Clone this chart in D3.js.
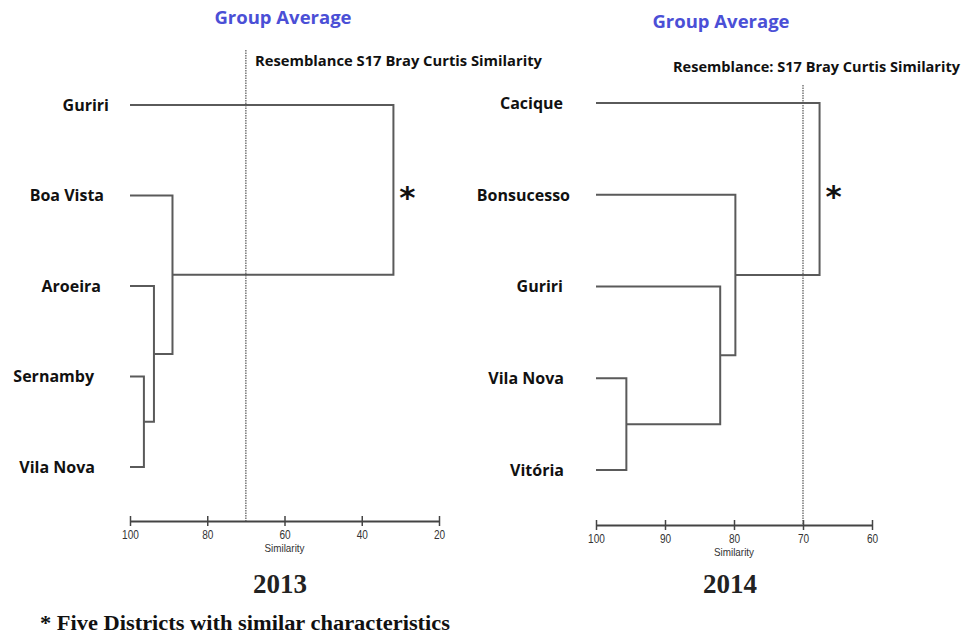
<!DOCTYPE html>
<html>
<head>
<meta charset="utf-8">
<script src="https://cdn.jsdelivr.net/npm/d3@7/dist/d3.min.js"></script>
<style>
  html, body { margin: 0; padding: 0; background: #fff; }
  svg { display: block; }
</style>
</head>
<body>
<svg id="chart" width="965" height="641"></svg>
<script>
// ---- 2013 dendrogram (group-average clustering, Bray-Curtis similarity) ----
const leaves2013 = ["Guriri", "Boa Vista", "Aroeira", "Sernamby", "Vila Nova"];
// merge i joins two nodes; leaves are ids 0..n-1, merge i gets id n+i
const mergePairs2013 = [[3, 4], [2, 5], [1, 6], [0, 7]];
const mergeSim2013 = [96.4, 93.8, 89.0, 31.8];
const ticks2013 = [100, 80, 60, 40, 20];
const cutoff2013 = 70;

// ---- 2014 dendrogram ----
const leaves2014 = ["Cacique", "Bonsucesso", "Guriri", "Vila Nova", "Vitória"];
const mergePairs2014 = [[3, 4], [2, 5], [1, 6], [0, 7]];
const mergeSim2014 = [95.6, 82.0, 79.8, 67.6];
const ticks2014 = [100, 90, 80, 70, 60];
const cutoff2014 = 70;

const svg = d3.select("#chart");
const lineColor = "#5a5a5a";
const titleColor = "#4b4fd6";
const sansBold = "'Open Sans', Lato, sans-serif";

function drawDendrogram(cfg) {
  const g = svg.append("g");
  const x = d3.scaleLinear().domain(cfg.domain).range(cfg.xRange);
  const y = d3.scalePoint().domain(cfg.leaves).range(cfg.yRange);

  // node positions: leaves first, then merges
  const nodes = cfg.leaves.map(name => ({ x: x(100), y: y(name) }));
  cfg.pairs.forEach((p, i) => {
    const a = nodes[p[0]], b = nodes[p[1]];
    const mx = x(cfg.sims[i]);
    g.append("path")
      .attr("d", `M${a.x},${a.y}H${mx}V${b.y}H${b.x}`)
      .attr("fill", "none")
      .attr("stroke", lineColor)
      .attr("stroke-width", 2);
    nodes.push({ x: mx, y: (a.y + b.y) / 2 });
  });

  // leaf labels
  g.selectAll("text.leaf")
    .data(cfg.leaves)
    .join("text")
    .attr("class", "leaf")
    .attr("x", (d, i) => cfg.labelEnd[i])
    .attr("y", d => y(d))
    .attr("dy", "0.36em")
    .attr("text-anchor", "end")
    .attr("font-family", sansBold)
    .attr("font-weight", "bold")
    .attr("font-size", 16)
    .attr("fill", "#111")
    .text(d => d);

  // similarity axis
  const axis = d3.axisBottom(x)
    .tickValues(cfg.ticks)
    .tickSizeInner(5)
    .tickSizeOuter(0)
    .tickPadding(4);
  const ax = g.append("g")
    .attr("transform", `translate(0,${cfg.axisY})`)
    .call(axis);
  ax.select(".domain").attr("stroke", "#444").attr("stroke-width", 2);
  ax.selectAll(".tick line").attr("y1", -5).attr("y2", 5)
    .attr("stroke", "#444").attr("stroke-width", 1.5);
  ax.selectAll(".tick text")
    .attr("font-family", "'Liberation Sans', Arial, sans-serif")
    .attr("font-size", 12)
    .attr("fill", "#333")
    .attr("textLength", d => String(d).length * 5.6)
    .attr("lengthAdjust", "spacingAndGlyphs");

  g.append("text")
    .attr("x", (cfg.xRange[0] + cfg.xRange[1]) / 2)
    .attr("y", cfg.axisY + 31)
    .attr("text-anchor", "middle")
    .attr("font-family", "'Liberation Sans', Arial, sans-serif")
    .attr("font-size", 11)
    .attr("textLength", 40)
    .attr("lengthAdjust", "spacingAndGlyphs")
    .attr("fill", "#333")
    .text("Similarity");

  // cut-off line at 70% similarity
  g.append("line")
    .attr("x1", x(cfg.cutoff)).attr("x2", x(cfg.cutoff))
    .attr("y1", cfg.cutTop).attr("y2", cfg.axisY)
    .attr("stroke", "#555")
    .attr("stroke-width", 1.2)
    .attr("stroke-dasharray", "1.5,1");

  // asterisk next to the top-level join
  const root = nodes[nodes.length - 1];
  g.append("text")
    .attr("x", root.x + 14)
    .attr("y", y(cfg.leaves[1]) + 12)
    .attr("text-anchor", "middle")
    .attr("font-family", "'DejaVu Sans', sans-serif")
    .attr("font-weight", "bold")
    .attr("font-size", 31)
    .attr("fill", "#111")
    .text("*");

  // headings
  g.append("text")
    .attr("x", cfg.titleX).attr("y", cfg.titleY)
    .attr("text-anchor", "middle")
    .attr("font-family", sansBold)
    .attr("font-weight", "bold")
    .attr("font-size", 18.5)
    .attr("fill", titleColor)
    .text("Group Average");

  g.append("text")
    .attr("x", cfg.resX).attr("y", cfg.resY)
    .attr("font-family", sansBold)
    .attr("font-weight", "bold")
    .attr("font-size", 14.5)
    .attr("textLength", 287)
    .attr("lengthAdjust", "spacingAndGlyphs")
    .attr("fill", "#111")
    .text(cfg.resText);

  g.append("text")
    .attr("x", cfg.yearX).attr("y", 593)
    .attr("text-anchor", "middle")
    .attr("font-family", "'Liberation Serif', 'Times New Roman', serif")
    .attr("font-weight", "bold")
    .attr("font-size", 27)
    .attr("fill", "#222")
    .text(cfg.year);
}

drawDendrogram({
  leaves: leaves2013, pairs: mergePairs2013, sims: mergeSim2013,
  ticks: ticks2013, cutoff: cutoff2013, domain: [100, 20],
  xRange: [130, 439], yRange: [105, 467], axisY: 521, cutTop: 50,
  labelEnd: [109, 104, 101, 94, 95],
  titleX: 283, titleY: 24,
  resX: 255, resY: 66, resText: "Resemblance S17 Bray Curtis Similarity",
  yearX: 280, year: "2013"
});

drawDendrogram({
  leaves: leaves2014, pairs: mergePairs2014, sims: mergeSim2014,
  ticks: ticks2014, cutoff: cutoff2014, domain: [100, 60],
  xRange: [596, 872], yRange: [103, 470], axisY: 525, cutTop: 85,
  labelEnd: [563, 570, 563, 564, 564],
  titleX: 721, titleY: 28,
  resX: 673, resY: 72, resText: "Resemblance: S17 Bray Curtis Similarity",
  yearX: 730, year: "2014"
});

svg.append("text")
  .attr("x", 40).attr("y", 630)
  .attr("font-family", "'Liberation Serif', 'Times New Roman', serif")
  .attr("font-weight", "bold")
  .attr("font-size", 20.5)
  .attr("textLength", 410)
  .attr("lengthAdjust", "spacingAndGlyphs")
  .attr("fill", "#111")
  .text("* Five Districts with similar characteristics");
</script>
</body>
</html>
